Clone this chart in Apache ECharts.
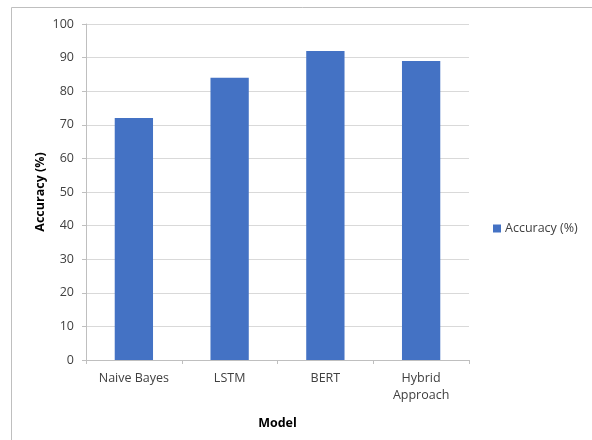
<!DOCTYPE html>
<html>
<head>
<meta charset="utf-8">
<script src="https://cdn.jsdelivr.net/npm/echarts@6/dist/echarts.min.js"></script>
<style>
	html, body { margin: 0; padding: 0; background: #fff; }
	#chart { width: 592px; height: 440px; }
</style>
</head>
<body>
<div id="chart"></div>
<script>
// 数据
const categories = ['Naive Bayes', 'LSTM', 'BERT', 'Hybrid\nApproach'];
const accuracy = [72, 84, 92, 89];
const seriesName = 'Accuracy (%)';

const fontFamily = '"Open Sans", "Liberation Sans", sans-serif';
const textColor = '#404040';

let myChart = echarts.init(document.getElementById('chart'));
let option = {
	animation: false,
	graphic: [
		{
			// 外边框（右、下超出画面）
			type: 'rect',
			shape: { x: 11.5, y: 7.5, width: 700, height: 600 },
			style: { fill: 'none', stroke: '#bfbfbf', lineWidth: 1 },
			silent: true,
		},
	],
	grid: {
		left: 86,
		top: 24,
		right: 123,
		bottom: 80,
	},
	legend: {
		data: [seriesName],
		left: 488,
		top: 217,
		itemWidth: 8,
		itemHeight: 8,
		itemGap: 5,
		icon: 'rect',
		textStyle: {
			color: textColor,
			fontFamily: fontFamily,
			fontSize: 12.5,
			padding: [0, 0, 0, -1],
		},
	},
	xAxis: {
		type: 'category',
		data: categories,
		name: 'Model',
		nameLocation: 'middle',
		nameGap: 57,
		nameMoveOverlap: false,
		nameTextStyle: {
			color: '#000',
			fontFamily: fontFamily,
			fontSize: 12.5,
			fontWeight: 'bold',
		},
		axisLine: { lineStyle: { color: '#bfbfbf' } },
		axisTick: { show: true, length: 4, lineStyle: { color: '#bfbfbf' } },
		axisLabel: {
			color: textColor,
			fontFamily: fontFamily,
			fontSize: 12.5,
			margin: 10,
			lineHeight: 17,
			interval: 0,
		},
	},
	yAxis: {
		type: 'value',
		min: 0,
		max: 100,
		interval: 10,
		name: 'Accuracy (%)',
		nameLocation: 'middle',
		nameGap: 39,
		nameMoveOverlap: false,
		nameTextStyle: {
			color: '#000',
			fontFamily: fontFamily,
			fontSize: 12.5,
			fontWeight: 'bold',
		},
		axisLine: { show: true, lineStyle: { color: '#bfbfbf' } },
		axisTick: { show: true, length: 4, lineStyle: { color: '#bfbfbf' } },
		axisLabel: {
			color: textColor,
			fontFamily: fontFamily,
			fontSize: 12.5,
			margin: 12,
		},
		splitLine: { show: true, lineStyle: { color: '#d9d9d9', width: 1 } },
	},
	series: [
		{
			name: seriesName,
			type: 'bar',
			data: accuracy,
			barWidth: '40%',
			itemStyle: { color: '#4472c4' },
		},
	],
};
myChart.setOption(option);
</script>
</body>
</html>
